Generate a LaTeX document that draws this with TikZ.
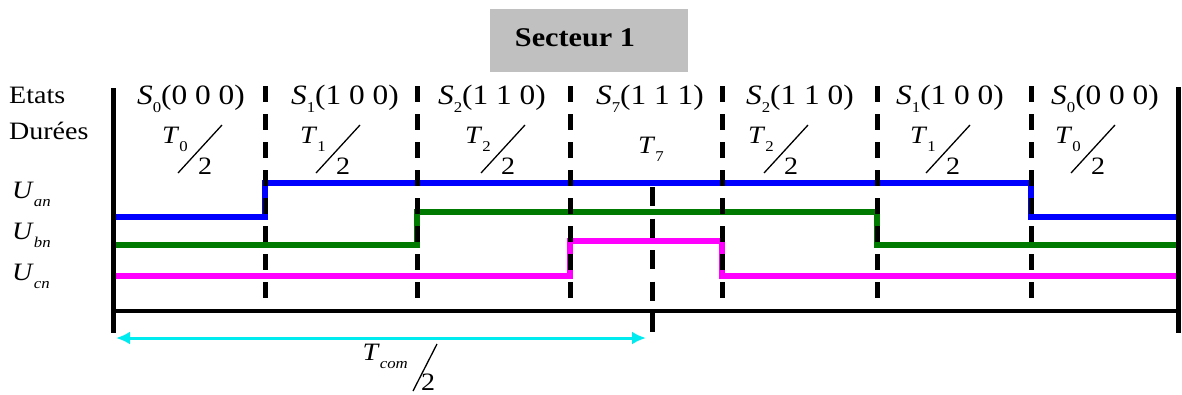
\documentclass[tikz,border=0pt]{standalone}
\usepackage{fontspec}
\setmainfont[FakeStretch=1.12]{Liberation Serif}
\usetikzlibrary{arrows.meta}
\definecolor{sigblue}{RGB}{0,0,255}
\definecolor{siggreen}{RGB}{0,122,0}
\definecolor{sigmag}{RGB}{255,0,255}
\definecolor{arrcyan}{RGB}{0,235,240}
\definecolor{boxgray}{RGB}{192,192,192}
\newcommand{\lowsub}[1]{\raisebox{-0.32em}{\fontsize{15}{16}\selectfont #1}}
\begin{document}
\begin{tikzpicture}[x=1pt,y=-1pt,
  lab/.style={font=\fontsize{25}{27}\selectfont, inner sep=0pt, anchor=base west},
  statelab/.style={font=\fontsize{28}{30}\selectfont, inner sep=0pt, anchor=base},
  tl/.style={font=\fontsize{25}{27}\selectfont, inner sep=0pt},
  solidbar/.style={line width=5pt},
  dashbar/.style={line width=5pt, dash pattern=on 16pt off 12pt},
  sig/.style={line width=6pt, line join=miter},
  baseln/.style={line width=4pt},
  slash/.style={line width=1.3pt},
  pics/halffrac/.style={code={
    \node[tl, anchor=base east] (-num) at (-4,-5) {\textit{T}\lowsub{#1}};
    \draw[slash] (-14,25) -- (30,-23);
    \node[tl, anchor=base] (-den) at (13,26) {2};
  }},
]
\useasboundingbox (0,0) rectangle (1182,394);

% title box
\node[fill=boxgray, minimum width=198pt, minimum height=63pt, inner sep=0pt] (box) at (589,40.5) {};
\node[font=\fontsize{27}{29}\selectfont\bfseries, inner sep=0pt, anchor=base] (title) at (575,46) {Secteur 1};

% row labels
\node[lab] (etats) at (9,103) {Etats};
\node[lab] (durees) at (9,139) {Durées};
\node[lab] (uan) at (12,198) {\textit{U}\lowsub{\textit{an}}};
\node[lab] (ubn) at (12,239) {\textit{U}\lowsub{\textit{bn}}};
\node[lab] (ucn) at (12,280) {\textit{U}\lowsub{\textit{cn}}};

% states
\node[statelab] (s1) at (191,104) {\textit{S}\lowsub{0}(0 0 0)};
\node[statelab] (s2) at (345,104) {\textit{S}\lowsub{1}(1 0 0)};
\node[statelab] (s3) at (492,104) {\textit{S}\lowsub{2}(1 1 0)};
\node[statelab] (s4) at (650,104) {\textit{S}\lowsub{7}(1 1 1)};
\node[statelab] (s5) at (800,104) {\textit{S}\lowsub{2}(1 1 0)};
\node[statelab] (s6) at (950,104) {\textit{S}\lowsub{1}(1 0 0)};
\node[statelab] (s7) at (1105,104) {\textit{S}\lowsub{0}(0 0 0)};

% durations
\pic (d1) at (192,148) {halffrac={0}};
\pic (d2) at (330,148) {halffrac={1}};
\pic (d3) at (495,148) {halffrac={2}};
\node[tl, anchor=base] (d4) at (651,153) {\textit{T}\lowsub{7}};
\pic (d5) at (778,148) {halffrac={2}};
\pic (d6) at (940,148) {halffrac={1}};
\pic (d7) at (1085,148) {halffrac={0}};

% signals
\draw[sig, sigblue] (111,217) -- (265,217) -- (265,183) -- (1031,183) -- (1031,217) -- (1176,217);
\draw[sig, siggreen] (111,245) -- (417,245) -- (417,212) -- (877,212) -- (877,245) -- (1176,245);
\draw[sig, sigmag] (111,276) -- (570,276) -- (570,241) -- (722,241) -- (722,276) -- (1176,276);

% frame
\draw[solidbar] (113,88) -- (113,333);
\draw[solidbar] (1178,87) -- (1178,333);
\foreach \xx in {265,417,570,722,877,1031} {
  \draw[dashbar] (\xx,86) -- (\xx,300);
}
\draw[line width=5pt, dash pattern=on 19pt off 12.5pt] (652,187) -- (652,334);
\draw[baseln] (113,311) -- (1178,311);

% Tcom/2 arrow
\draw[line width=3pt, arrcyan, {Latex[length=14pt,width=13pt]}-{Latex[length=14pt,width=13pt]}] (116,338) -- (646,338);
\node[tl, anchor=base east] (tcnum) at (408,360) {\textit{T}\lowsub{\textit{com}}};
\draw[slash] (413,391) -- (437,344);
\node[tl, anchor=base] (tcden) at (428,390) {2};
\end{tikzpicture}
\end{document}
